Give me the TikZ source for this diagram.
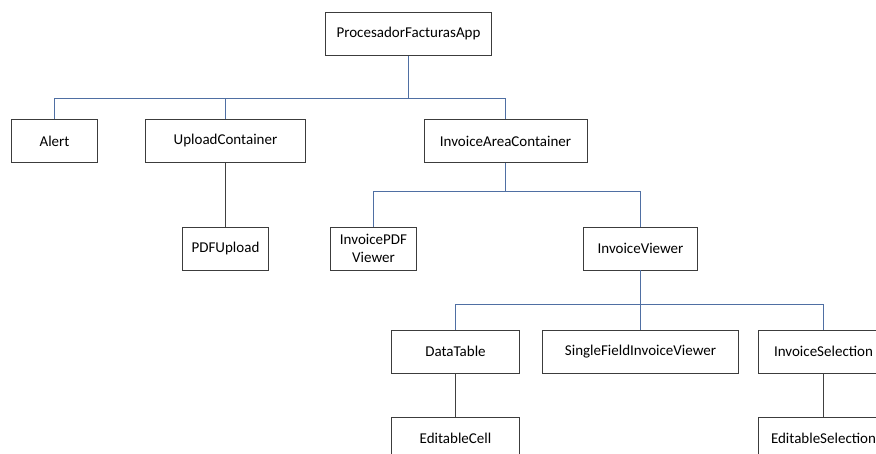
\documentclass[tikz,border=0pt]{standalone}
\usepackage{fontspec}
\setmainfont{Carlito}
\definecolor{boxline}{HTML}{3C3C3C}
\definecolor{treeline}{HTML}{4F6FA3}
\definecolor{plainline}{HTML}{404040}
\begin{document}
\begin{tikzpicture}[x=1pt,y=-1pt,
  comp/.style={draw=boxline,line width=0.95pt,fill=white,rectangle,inner sep=0pt,
    minimum height=43pt,align=center,font=\fontsize{15}{16}\selectfont},
  conn/.style={draw=treeline,line width=1pt},
  link/.style={draw=plainline,line width=1pt}]
\useasboundingbox (0,0) rectangle (876,454);
\clip (0,0) rectangle (876,454);
\fill[white] (0,0) rectangle (876,454);

% components
\node[comp,minimum width=166pt] (app) at (408.5,34) {ProcesadorFacturasApp};
\node[comp,minimum width=86pt] (alert) at (54.5,141) {Alert};
\node[comp,minimum width=160pt] (upload) at (225.5,141) {UploadContainer};
\node[comp,minimum width=163pt] (iac) at (505.5,141) {InvoiceAreaContainer};
\node[comp,minimum width=86pt] (pdfup) at (225.5,248.5) {PDFUpload};
\node[comp,minimum width=86pt,font=\fontsize{15}{17.5}\selectfont] (ipv) at (373.5,248.5) {InvoicePDF\\Viewer};
\node[comp,minimum width=114pt] (iv) at (640.5,248.5) {InvoiceViewer};
\node[comp,minimum width=128pt] (dt) at (455.5,351.5) {DataTable};
\node[comp,minimum width=196pt] (sfiv) at (640.5,351.5) {SingleFieldInvoiceViewer};
\node[comp,minimum width=130pt] (isel) at (823.5,351.5) {InvoiceSelection};
\node[comp,minimum width=128pt] (ec) at (455.5,438.5) {EditableCell};
\node[comp,minimum width=130pt] (es) at (823.5,438.5) {EditableSelection};

% bus levels of the tree
\coordinate (bus1) at (408.5,98.5);
\coordinate (bus2) at (505.5,191.5);
\coordinate (bus3) at (640.5,304.5);

% tree connectors
\draw[conn] (app.south) -- (bus1);
\draw[conn] (alert.north) |- (bus1) -| (iac.north);
\draw[conn] (upload.north) -- (upload.north |- bus1);

\draw[conn] (iac.south) -- (bus2);
\draw[conn] (ipv.north) |- (bus2) -| (iv.north);

\draw[conn] (iv.south) -- (bus3);
\draw[conn] (dt.north) |- (bus3) -| (isel.north);
\draw[conn] (sfiv.north) -- (bus3);

% direct links
\draw[link] (upload.south) -- (pdfup.north);
\draw[link] (dt.south) -- (ec.north);
\draw[link] (isel.south) -- (es.north);
\end{tikzpicture}
\end{document}
